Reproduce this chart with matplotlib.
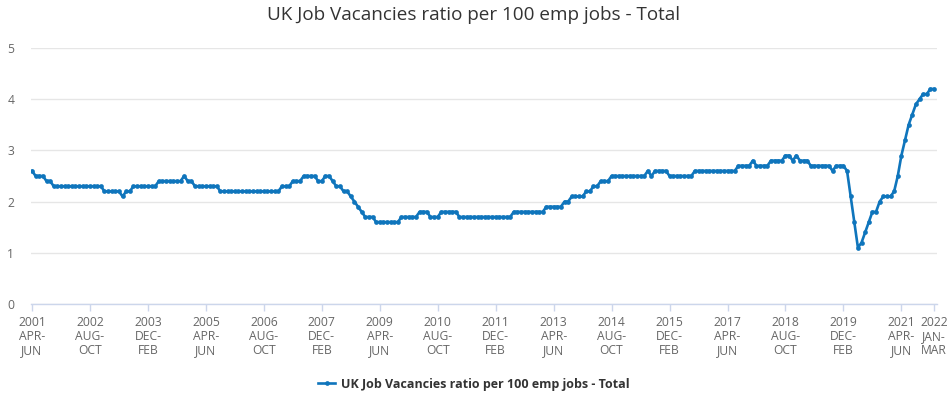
import matplotlib.pyplot as plt


# ratio of job vacancies per 100 employee jobs, rolling 3-month periods
# first period is APR-JUN 2001, last is JAN-MAR 2022
ratio = [
    2.6, 2.5, 2.5, 2.5, 2.4, 2.4, 2.3, 2.3, 2.3, 2.3,
    2.3, 2.3, 2.3, 2.3, 2.3, 2.3, 2.3, 2.3, 2.3, 2.3,
    2.2, 2.2, 2.2, 2.2, 2.2, 2.1, 2.2, 2.2, 2.3, 2.3,
    2.3, 2.3, 2.3, 2.3, 2.3, 2.4, 2.4, 2.4, 2.4, 2.4,
    2.4, 2.4, 2.5, 2.4, 2.4, 2.3, 2.3, 2.3, 2.3, 2.3,
    2.3, 2.3, 2.2, 2.2, 2.2, 2.2, 2.2, 2.2, 2.2, 2.2,
    2.2, 2.2, 2.2, 2.2, 2.2, 2.2, 2.2, 2.2, 2.2, 2.3,
    2.3, 2.3, 2.4, 2.4, 2.4, 2.5, 2.5, 2.5, 2.5, 2.4,
    2.4, 2.5, 2.5, 2.4, 2.3, 2.3, 2.2, 2.2, 2.1, 2.0,
    1.9, 1.8, 1.7, 1.7, 1.7, 1.6, 1.6, 1.6, 1.6, 1.6,
    1.6, 1.6, 1.7, 1.7, 1.7, 1.7, 1.7, 1.8, 1.8, 1.8,
    1.7, 1.7, 1.7, 1.8, 1.8, 1.8, 1.8, 1.8, 1.7, 1.7,
    1.7, 1.7, 1.7, 1.7, 1.7, 1.7, 1.7, 1.7, 1.7, 1.7,
    1.7, 1.7, 1.7, 1.8, 1.8, 1.8, 1.8, 1.8, 1.8, 1.8,
    1.8, 1.8, 1.9, 1.9, 1.9, 1.9, 1.9, 2.0, 2.0, 2.1,
    2.1, 2.1, 2.1, 2.2, 2.2, 2.3, 2.3, 2.4, 2.4, 2.4,
    2.5, 2.5, 2.5, 2.5, 2.5, 2.5, 2.5, 2.5, 2.5, 2.5,
    2.6, 2.5, 2.6, 2.6, 2.6, 2.6, 2.5, 2.5, 2.5, 2.5,
    2.5, 2.5, 2.5, 2.6, 2.6, 2.6, 2.6, 2.6, 2.6, 2.6,
    2.6, 2.6, 2.6, 2.6, 2.6, 2.7, 2.7, 2.7, 2.7, 2.8,
    2.7, 2.7, 2.7, 2.7, 2.8, 2.8, 2.8, 2.8, 2.9, 2.9,
    2.8, 2.9, 2.8, 2.8, 2.8, 2.7, 2.7, 2.7, 2.7, 2.7,
    2.7, 2.6, 2.7, 2.7, 2.7, 2.6, 2.1, 1.6, 1.1, 1.2,
    1.4, 1.6, 1.8, 1.8, 2.0, 2.1, 2.1, 2.1, 2.2, 2.5,
    2.9, 3.2, 3.5, 3.7, 3.9, 4.0, 4.1, 4.1, 4.2, 4.2,
]

start_year = 2001
start_month = 4  # APR
month_names = ["JAN", "FEB", "MAR", "APR", "MAY", "JUN",
               "JUL", "AUG", "SEP", "OCT", "NOV", "DEC"]
tick_step = 16
series_name = "UK Job Vacancies ratio per 100 emp jobs - Total"
y_ticks = [0, 1, 2, 3, 4, 5]

blue = "#0f75bc"
grey_text = "#666666"
axis_col = "#ccd6eb"

# build "YEAR\nMON-\nMON" labels for every period
periods = []
for i in range(len(ratio)):
    m = start_month - 1 + i
    year = start_year + m // 12
    first = month_names[m % 12]
    last = month_names[(m + 2) % 12]
    periods.append(str(year) + "\n" + first + "-\n" + last)

tick_pos = list(range(0, len(ratio), tick_step))
if tick_pos[-1] != len(ratio) - 1:
    tick_pos.append(len(ratio) - 1)

plt.rcParams['font.family'] = ['Open Sans', 'DejaVu Sans']

fig = plt.figure(figsize=(9.48, 3.98), dpi=100)
ax = fig.add_axes([31 / 948, 94 / 398, 906 / 948, 256 / 398])

x = list(range(len(ratio)))
line, = ax.plot(x, ratio, color=blue, linewidth=1.9, marker="o",
                markersize=3.4, markeredgewidth=0, label=series_name,
                zorder=3)

ax.set_xlim(-0.28, len(ratio) - 1 + 0.83)
ax.set_ylim(0, 5)
ax.set_yticks(y_ticks)
ax.set_xticks(tick_pos)
ax.set_xticklabels([periods[p] for p in tick_pos], linespacing=1.1)

ax.grid(axis="y", color="#e6e6e6", linewidth=1)
ax.set_axisbelow(True)
for side in ["top", "right", "left"]:
    ax.spines[side].set_visible(False)
ax.spines["bottom"].set_color(axis_col)
ax.spines["bottom"].set_linewidth(1)

ax.tick_params(axis="y", length=0, pad=12, labelsize=8.7, labelcolor=grey_text)
ax.tick_params(axis="x", length=5, width=1, color=axis_col, pad=4,
               labelsize=8.7, labelcolor=grey_text)

fig.text(0.5, 0.962, series_name, ha="center", va="center",
         fontsize=13.6, color="#333333")

leg = fig.legend(handles=[line], loc="center", bbox_to_anchor=(0.5, 0.035),
                 frameon=False, handlelength=1.35, handletextpad=0.45,
                 prop={"size": 9, "weight": "bold"})
for t in leg.get_texts():
    t.set_color("#333333")

fig.savefig("out.png", dpi=100)
